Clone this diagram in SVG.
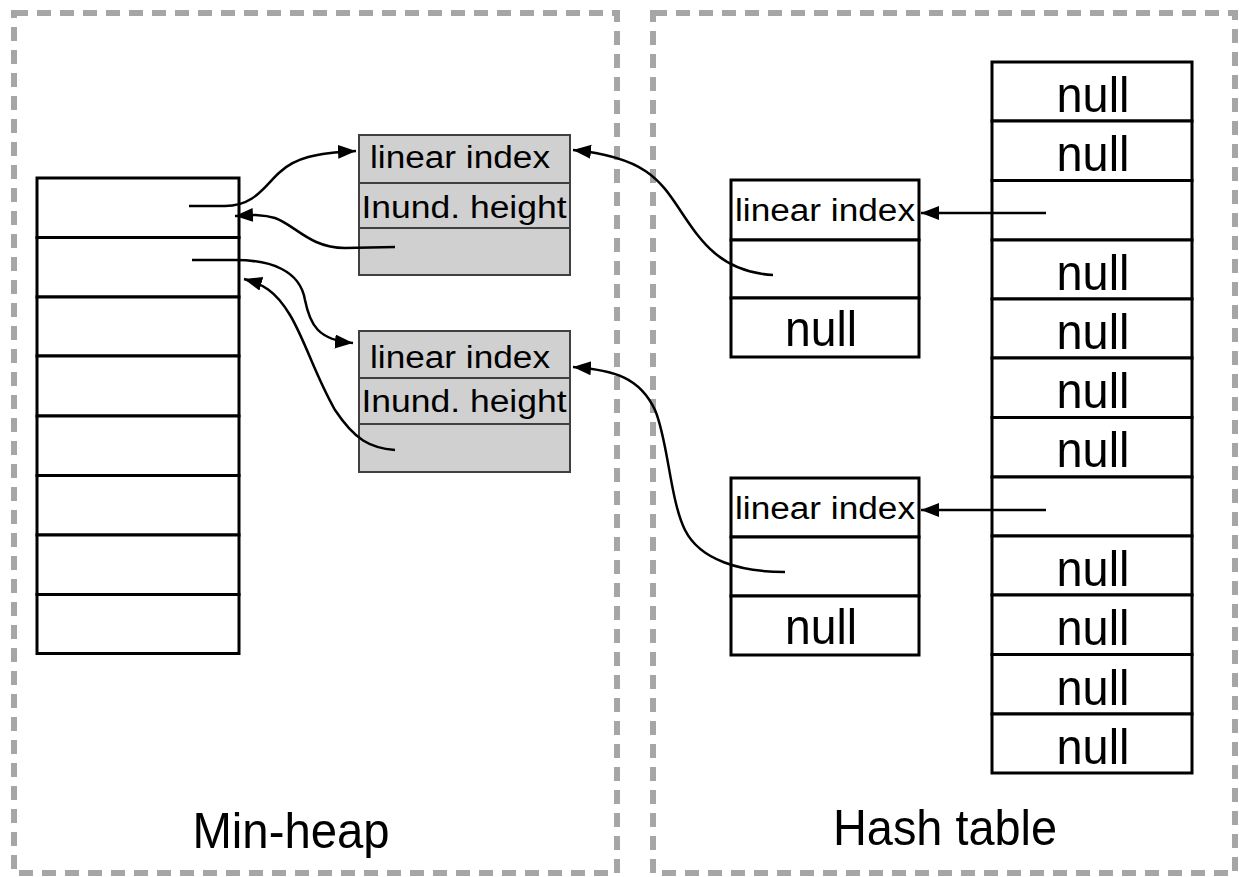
<svg xmlns="http://www.w3.org/2000/svg" width="1239" height="877" viewBox="0 0 1239 877">
<defs>
<marker id="ah" markerUnits="userSpaceOnUse" markerWidth="20" markerHeight="16" refX="18" refY="7" orient="auto">
<path d="M0,0 L18,7 L0,14 z" fill="#000"/>
</marker>
<style>
.frame{fill:none;stroke:#a6a6a6;stroke-width:6;stroke-dasharray:14 9}
.cell{fill:#fff;stroke:#000;stroke-width:3}
.gcell{fill:#d0d0d0;stroke:#404040;stroke-width:2}
.t{font-family:"Liberation Sans",Arial,sans-serif;fill:#000;text-anchor:middle}
.small{font-size:31px}
.big{font-size:50px}
.lab{font-size:50px}
.conn{fill:none;stroke:#000;stroke-width:2.5;marker-end:url(#ah)}
</style>
</defs>
<rect width="1239" height="877" fill="#fff"/>
<g id="minheap-frame">
<rect class="frame" x="14" y="13" width="603" height="860"/>
<text class="t lab" x="291" y="848" textLength="197" lengthAdjust="spacingAndGlyphs">Min-heap</text>
</g>
<g id="hashtable-frame">
<rect class="frame" x="653" y="13" width="582" height="860"/>
<text class="t lab" x="945" y="845" textLength="224" lengthAdjust="spacingAndGlyphs">Hash table</text>
</g>
<g id="minheap">
<rect class="cell" x="37" y="178" width="202" height="59.5"/>
<rect class="cell" x="37" y="237.5" width="202" height="59.5"/>
<rect class="cell" x="37" y="297" width="202" height="59"/>
<rect class="cell" x="37" y="356" width="202" height="60"/>
<rect class="cell" x="37" y="416" width="202" height="59.5"/>
<rect class="cell" x="37" y="475.5" width="202" height="59.5"/>
<rect class="cell" x="37" y="535" width="202" height="59.5"/>
<rect class="cell" x="37" y="594.5" width="202" height="59"/>
</g>
<g id="node1">
<rect class="gcell" x="359" y="135" width="211" height="48"/>
<rect class="gcell" x="359" y="183" width="211" height="45"/>
<rect class="gcell" x="359" y="228" width="211" height="47"/>
<text class="t small" x="460" y="168" textLength="180" lengthAdjust="spacingAndGlyphs">linear index</text>
<text class="t small" x="464" y="218" textLength="205" lengthAdjust="spacingAndGlyphs">Inund. height</text>
</g>
<g id="node2">
<rect class="gcell" x="359" y="331" width="211" height="47"/>
<rect class="gcell" x="359" y="378" width="211" height="46"/>
<rect class="gcell" x="359" y="424" width="211" height="48"/>
<text class="t small" x="460" y="368" textLength="180" lengthAdjust="spacingAndGlyphs">linear index</text>
<text class="t small" x="464" y="412" textLength="205" lengthAdjust="spacingAndGlyphs">Inund. height</text>
</g>
<g id="entryA">
<rect class="cell" x="731" y="180" width="188" height="60"/>
<rect class="cell" x="731" y="240" width="188" height="58"/>
<rect class="cell" x="731" y="298" width="188" height="59"/>
<text class="t small" x="825" y="221" textLength="180" lengthAdjust="spacingAndGlyphs">linear index</text>
<text class="t big" x="821" y="346" textLength="72" lengthAdjust="spacingAndGlyphs">null</text>
</g>
<g id="entryB">
<rect class="cell" x="731" y="478" width="188" height="59"/>
<rect class="cell" x="731" y="537" width="188" height="59"/>
<rect class="cell" x="731" y="596" width="188" height="59"/>
<text class="t small" x="825" y="519" textLength="180" lengthAdjust="spacingAndGlyphs">linear index</text>
<text class="t big" x="821" y="644" textLength="72" lengthAdjust="spacingAndGlyphs">null</text>
</g>
<g id="table">
<rect class="cell" x="992" y="62" width="200" height="59"/>
<rect class="cell" x="992" y="121" width="200" height="59.5"/>
<rect class="cell" x="992" y="180.5" width="200" height="59.5"/>
<rect class="cell" x="992" y="240" width="200" height="59"/>
<rect class="cell" x="992" y="299" width="200" height="59"/>
<rect class="cell" x="992" y="358" width="200" height="59.5"/>
<rect class="cell" x="992" y="417.5" width="200" height="59.5"/>
<rect class="cell" x="992" y="477" width="200" height="59"/>
<rect class="cell" x="992" y="536" width="200" height="59"/>
<rect class="cell" x="992" y="595" width="200" height="59.5"/>
<rect class="cell" x="992" y="654.5" width="200" height="59.5"/>
<rect class="cell" x="992" y="714" width="200" height="59"/>
<text class="t big" x="1093" y="112" textLength="73" lengthAdjust="spacingAndGlyphs">null</text>
<text class="t big" x="1093" y="171" textLength="73" lengthAdjust="spacingAndGlyphs">null</text>
<text class="t big" x="1093" y="290" textLength="73" lengthAdjust="spacingAndGlyphs">null</text>
<text class="t big" x="1093" y="349" textLength="73" lengthAdjust="spacingAndGlyphs">null</text>
<text class="t big" x="1093" y="408" textLength="73" lengthAdjust="spacingAndGlyphs">null</text>
<text class="t big" x="1093" y="467" textLength="73" lengthAdjust="spacingAndGlyphs">null</text>
<text class="t big" x="1093" y="586" textLength="73" lengthAdjust="spacingAndGlyphs">null</text>
<text class="t big" x="1093" y="645" textLength="73" lengthAdjust="spacingAndGlyphs">null</text>
<text class="t big" x="1093" y="705" textLength="73" lengthAdjust="spacingAndGlyphs">null</text>
<text class="t big" x="1093" y="764" textLength="73" lengthAdjust="spacingAndGlyphs">null</text>
</g>
<g id="connectors">
<path class="conn" d="M189,206 L225,206 C255,206 265,185 280,172 C295,158 315,153 356,151"/>
<path class="conn" d="M395,247 L345,248 C310,248 295,225 275,218 C262,214 252,215 235,216"/>
<path class="conn" d="M192,260 L235,260 C270,260 300,270 305,300 C310,325 318,340 353,343"/>
<path class="conn" d="M395,450 C370,448 355,440 335,410 C315,375 305,340 290,315 C275,290 262,284 244,279"/>
<path class="conn" d="M773,275 C720,272 700,240 680,210 C660,180 645,157 573,150"/>
<path class="conn" d="M785,572 C740,572 700,560 685,530 C670,500 668,440 655,410 C640,378 615,370 573,367"/>
<path class="conn" d="M1046,213 L921,213"/>
<path class="conn" d="M1046,510 L921,510"/>
</g>
</svg>
